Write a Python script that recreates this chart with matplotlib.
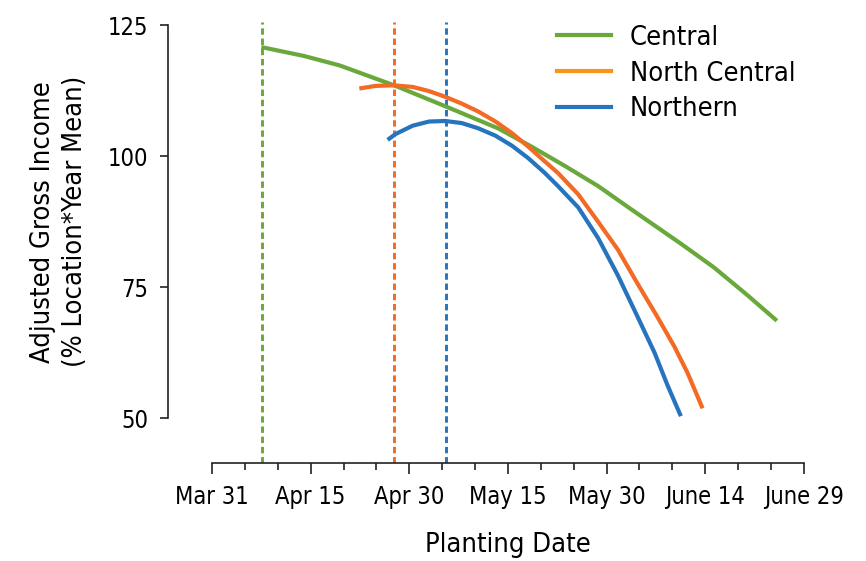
import matplotlib.pyplot as plt
from matplotlib.lines import Line2D
from matplotlib.ticker import FixedLocator

# planting date as day of year (Mar 31 = 90)
central_day = [97.5, 104.0, 109.4, 117.7, 125.5, 133.5, 138.6, 143.7, 148.7, 153.7,
               161.3, 166.3, 171.4, 175.9]
central_val = [120.8, 119.1, 117.3, 113.5, 109.5, 105.3, 101.8, 98.1, 94.3, 89.9,
               83.3, 78.8, 73.5, 68.6]

ncentral_day = [112.4, 114.9, 117.7, 120.5, 123.0, 125.5, 128.0, 130.5, 133.1,
                135.6, 138.1, 140.6, 142.6, 145.7, 148.7, 151.7, 154.7, 157.7,
                160.3, 162.3, 164.6]
ncentral_val = [112.9, 113.4, 113.5, 113.2, 112.4, 111.3, 110.0, 108.5, 106.6,
                104.4, 101.8, 99.0, 96.8, 92.7, 87.5, 82.2, 75.7, 69.4,
                63.7, 58.7, 51.9]

north_day = [116.7, 117.9, 120.5, 123.0, 125.5, 128.0, 130.5, 133.1, 135.6,
             138.1, 140.6, 142.6, 145.7, 148.7, 151.7, 154.7, 157.3, 159.3, 161.3]
north_val = [103.1, 104.2, 105.8, 106.6, 106.7, 106.3, 105.3, 103.9, 102.0,
             99.6, 96.8, 94.3, 90.2, 84.4, 77.3, 69.4, 62.5, 56.2, 50.4]

optimum = [97.6, 117.6, 125.6]  # dashed lines: central, north central, northern

xticks = [90, 105, 120, 135, 150, 165, 180]
xlabels = ['Mar 31', 'Apr 15', 'Apr 30', 'May 15', 'May 30', 'June 14', 'June 29']
yticks = [50, 75, 100, 125]

green = '#69a83a'
orange = '#f26a24'
orange_leg = '#f7941d'
blue = '#2574bd'

plt.rcParams['font.family'] = ['DejaVu Sans']
plt.rcParams['font.stretch'] = 'condensed'

fig = plt.figure(figsize=(8.66, 5.61), dpi=100)
ax = fig.add_axes([0.194, 0.175, 0.738, 0.785])
xlo, xhi, ylo, yhi = 83.3, 180.5, 41.5, 125.5

for d, c in zip(optimum, [green, orange, blue]):
    ax.plot([d, d], [ylo, yhi], color=c, lw=2.1, ls=(0, (2.2, 1.3)))

ax.plot(central_day, central_val, color=green, lw=3, solid_capstyle='butt')
ax.plot(ncentral_day, ncentral_val, color=orange, lw=3, solid_capstyle='butt')
ax.plot(north_day, north_val, color=blue, lw=3, solid_capstyle='butt')

ax.set_xlim(xlo, xhi)
ax.set_ylim(ylo, yhi)
for s in ['top', 'right']:
    ax.spines[s].set_visible(False)
ax.spines['left'].set_bounds(50, 125)
ax.spines['bottom'].set_bounds(90, 180)
for s in ['left', 'bottom']:
    ax.spines[s].set_color('#222222')
    ax.spines[s].set_linewidth(1.2)

ax.set_xticks(xticks)
ax.set_xticklabels(xlabels)
ax.xaxis.set_minor_locator(FixedLocator([d for d in range(90, 181, 5) if d not in xticks]))
ax.set_yticks(yticks)
ax.tick_params(axis='both', which='major', labelsize=17, color='#222222', width=1.2)
ax.tick_params(axis='x', which='major', length=8, pad=8)
ax.tick_params(axis='y', length=6, pad=8)
ax.tick_params(axis='x', which='minor', length=5, width=1.2, color='#222222')

# labels centred on the drawn spine ranges, not the whole axes
ax.set_xlabel('Planting Date', fontsize=19.5)
ax.xaxis.set_label_coords((135 - xlo) / (xhi - xlo), -0.157)
ax.set_ylabel('Adjusted Gross Income\n(% Location*Year Mean)', fontsize=19.5,
              linespacing=1.3)
ax.yaxis.set_label_coords(-0.125, (87.5 - ylo) / (yhi - ylo))

handles = [Line2D([], [], color=green, lw=3),
           Line2D([], [], color=orange_leg, lw=3),
           Line2D([], [], color=blue, lw=3)]
ax.legend(handles, ['Central', 'North Central', 'Northern'], loc='upper right',
          bbox_to_anchor=(1.02, 1.05), frameon=False, fontsize=19.5, handlelength=2.0,
          labelspacing=0.36, handletextpad=0.7)

fig.savefig('out.png', dpi=100)
